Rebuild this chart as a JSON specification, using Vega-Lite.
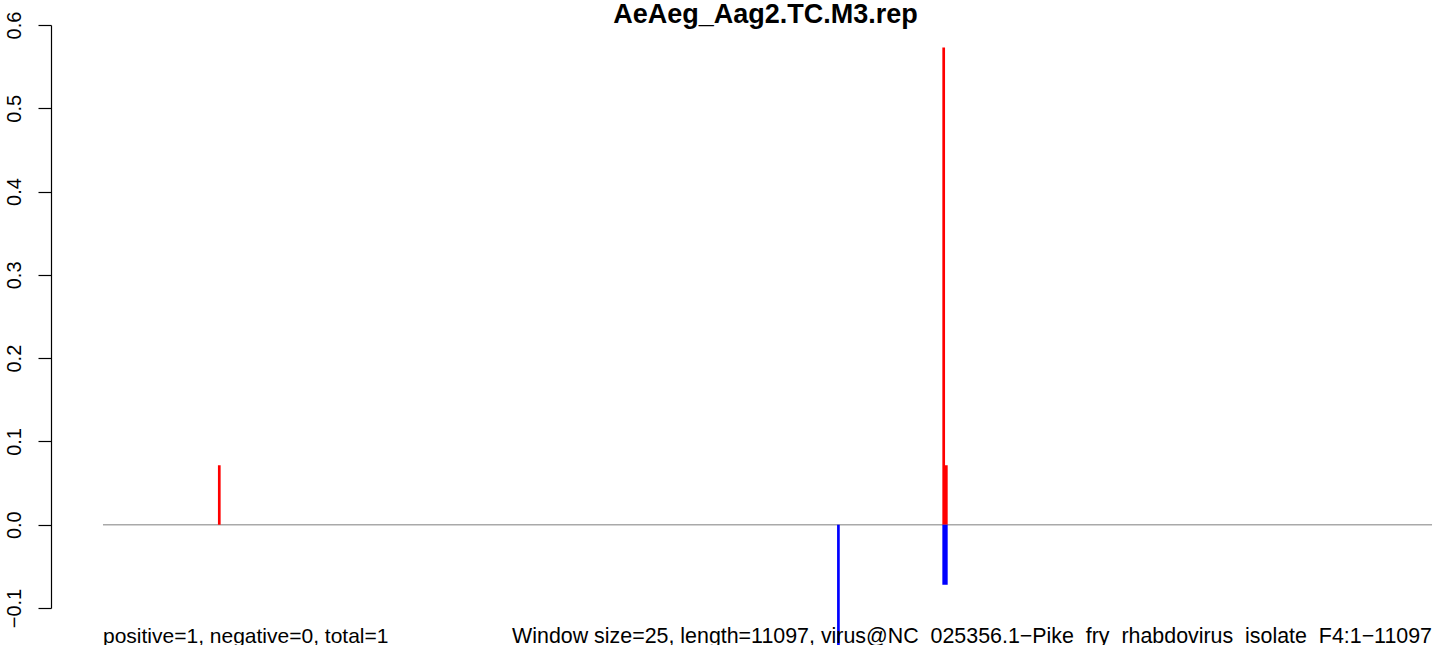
{
  "$schema": "https://vega.github.io/schema/vega-lite/v6.json",
  "autosize": {"type": "none"},
  "padding": {"left": 51, "top": 25, "right": 0, "bottom": 37},
  "width": 1393,
  "height": 583,
  "background": "white",
  "config": {"view": {"stroke": null}, "font": "Liberation Sans"},
  "title": {
    "text": "AeAeg_Aag2.TC.M3.rep",
    "fontSize": 27,
    "fontWeight": "bold",
    "font": "Liberation Sans",
    "color": "black",
    "anchor": "middle",
    "frame": "group",
    "dx": 18,
    "dy": 42,
    "baseline": "alphabetic",
    "offset": 3
  },
  "data": {
    "values": [
      {"pos": 972, "value": 0.0714, "strand": "+"},
      {"pos": 7020, "value": 0.573, "strand": "+"},
      {"pos": 7042, "value": 0.0714, "strand": "+"},
      {"pos": 6141, "value": -0.15, "strand": "-"},
      {"pos": 7020, "value": -0.0721, "strand": "-"},
      {"pos": 7042, "value": -0.0721, "strand": "-"}
    ]
  },
  "layer": [
    {
      "data": {"values": [{}]},
      "mark": {"type": "rule", "color": "#a9a9a9", "strokeWidth": 1.6},
      "encoding": {
        "x": {"datum": 1, "type": "quantitative", "scale": {"domain": [-433, 11197], "nice": false, "zero": false}, "axis": null},
        "x2": {"datum": 11097},
        "y": {
          "datum": 0,
          "type": "quantitative",
          "scale": {"domain": [-0.1, 0.6], "nice": false, "zero": false},
          "axis": {
            "values": [-0.1, 0, 0.1, 0.2, 0.3, 0.4, 0.5, 0.6],
            "format": ".1f",
            "title": null,
            "grid": false,
            "labelAngle": -90,
            "labelAlign": "center",
            "labelBaseline": "alphabetic",
            "labelFont": "Liberation Sans",
            "labelFontSize": 20,
            "labelColor": "black",
            "labelPadding": 17.5,
            "labelFlush": false,
            "labelOverlap": false,
            "tickSize": 13,
            "tickColor": "black",
            "tickWidth": 1.2,
            "domainColor": "black",
            "domainWidth": 1.2
          }
        }
      }
    },
    {
      "mark": {"type": "rule", "strokeWidth": 2.7, "strokeCap": "butt"},
      "encoding": {
        "x": {"field": "pos", "type": "quantitative"},
        "y": {"field": "value", "type": "quantitative"},
        "y2": {"datum": 0},
        "color": {"field": "strand", "type": "nominal", "scale": {"domain": ["+", "-"], "range": ["#ff0000", "#0000ff"]}, "legend": null}
      }
    },
    {
      "data": {"values": [{}]},
      "mark": {"type": "text", "align": "left", "baseline": "alphabetic", "fontSize": 21, "font": "Liberation Sans", "color": "black"},
      "encoding": {
        "x": {"datum": 1, "type": "quantitative"},
        "y": {"datum": -0.1424, "type": "quantitative"},
        "text": {"value": "positive=1, negative=0, total=1"}
      }
    },
    {
      "data": {"values": [{}]},
      "mark": {"type": "text", "align": "right", "baseline": "alphabetic", "fontSize": 21.4, "font": "Liberation Sans", "color": "black"},
      "encoding": {
        "x": {"datum": 11097, "type": "quantitative"},
        "y": {"datum": -0.1424, "type": "quantitative"},
        "text": {"value": "Window size=25, length=11097, virus@NC_025356.1−Pike_fry_rhabdovirus_isolate_F4:1−11097"}
      }
    }
  ]
}
